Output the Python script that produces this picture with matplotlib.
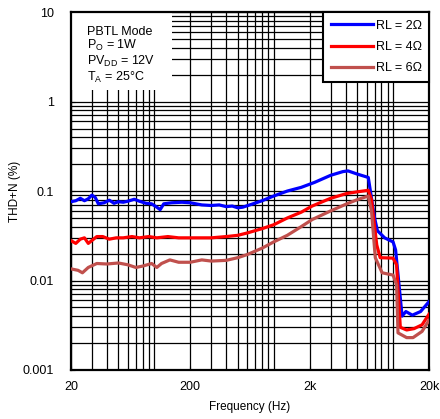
import numpy as np
import matplotlib.pyplot as plt
from matplotlib.patches import Rectangle
from matplotlib.ticker import LogLocator, FixedLocator, NullFormatter

plt.rcParams['font.family'] = ['Liberation Sans', 'DejaVu Sans']
plt.rcParams['mathtext.fontset'] = 'custom'
plt.rcParams['mathtext.rm'] = 'Liberation Sans'

# THD+N vs frequency
f_2 = [20, 22, 24, 26, 28, 30, 32, 34, 38, 42, 46, 50, 55, 60, 68, 75, 85, 95, 105, 112, 120,
       140, 170, 200, 250, 300, 350, 400, 450, 500, 550, 650, 800, 1000, 1300, 1700, 2200,
       3000, 3800, 4200, 5000, 6200, 7000, 7400, 8500, 10000, 10500, 11900, 12800, 14500,
       17000, 20000]
thd_2 = [0.076, 0.078, 0.083, 0.078, 0.082, 0.090, 0.085, 0.072, 0.074, 0.079, 0.073, 0.076,
         0.075, 0.077, 0.081, 0.077, 0.073, 0.072, 0.066, 0.062, 0.072, 0.074, 0.075, 0.074,
         0.070, 0.069, 0.070, 0.067, 0.068, 0.065, 0.066, 0.071, 0.078, 0.088, 0.100, 0.110,
         0.125, 0.150, 0.165, 0.168, 0.155, 0.142, 0.050, 0.036, 0.030, 0.027, 0.022, 0.0040,
         0.0045, 0.0041, 0.0045, 0.0058]

f_4 = [20, 22, 24, 26, 28, 30, 33, 37, 42, 48, 55, 65, 75, 90, 105, 130, 160, 200, 300, 400,
       500, 600, 800, 1000, 1300, 1700, 2100, 3000, 4100, 5000, 6200, 6600, 7300, 7800, 10000,
       10700, 11500, 13000, 15000, 17500, 20000]
thd_4 = [0.028, 0.026, 0.029, 0.030, 0.026, 0.028, 0.031, 0.031, 0.029, 0.030, 0.030, 0.031,
         0.030, 0.031, 0.030, 0.031, 0.030, 0.030, 0.030, 0.031, 0.032, 0.034, 0.038, 0.042,
         0.050, 0.058, 0.068, 0.083, 0.094, 0.098, 0.102, 0.080, 0.025, 0.018, 0.0178, 0.0150,
         0.0030, 0.0028, 0.0029, 0.0032, 0.0042]

f_6 = [20, 23, 25, 28, 33, 40, 50, 60, 70, 80, 95, 105, 115, 135, 160, 200, 250, 300, 400,
       500, 600, 800, 1000, 1300, 1700, 2100, 3000, 4100, 5000, 6200, 6600, 7100, 8100, 10000,
       10700, 11000, 13000, 14700, 17500, 20000]
thd_6 = [0.0135, 0.013, 0.0122, 0.014, 0.0155, 0.0153, 0.0157, 0.015, 0.014, 0.0145, 0.0155,
         0.014, 0.0155, 0.017, 0.016, 0.016, 0.017, 0.0165, 0.0168, 0.018, 0.0195, 0.023, 0.027,
         0.032, 0.040, 0.048, 0.060, 0.072, 0.080, 0.088, 0.060, 0.018, 0.0122, 0.0115, 0.009,
         0.0026, 0.0023, 0.0023, 0.0027, 0.0036]

fig = plt.figure(figsize=(4.4, 4.19), dpi=100)
ax = fig.add_axes([0.161, 0.117, 0.814, 0.854])

ax.plot(f_2, thd_2, color='#0000ff', lw=2.3, label='RL = 2Ω', zorder=3)
ax.plot(f_4, thd_4, color='#ff0000', lw=2.3, label='RL = 4Ω', zorder=3)
ax.plot(f_6, thd_6, color='#c0504d', lw=2.3, label='RL = 6Ω', zorder=3)

ax.set_xscale('log')
ax.set_yscale('log')
ax.set_xlim(20, 20000)
ax.set_ylim(0.001, 10)

ax.xaxis.set_major_locator(FixedLocator([20, 200, 2000, 20000]))
ax.set_xticklabels(['20', '200', '2k', '20k'])
ax.xaxis.set_minor_locator(LogLocator(base=10, subs=np.arange(1, 10)))
ax.xaxis.set_minor_formatter(NullFormatter())
ax.yaxis.set_major_locator(FixedLocator([0.001, 0.01, 0.1, 1, 10]))
ax.set_yticklabels(['0.001', '0.01', '0.1', '1', '10'])
ax.yaxis.set_minor_locator(LogLocator(base=10, subs=np.arange(2, 10)))
ax.yaxis.set_minor_formatter(NullFormatter())

ax.grid(True, which='both', color='black', lw=0.9)
ax.tick_params(which='both', direction='in', length=3, labelsize=9)
ax.tick_params(axis='x', pad=8)
ax.tick_params(axis='y', pad=12)
for s in ax.spines.values():
    s.set_linewidth(1.6)

ax.set_xlabel('Frequency (Hz)', fontsize=8.5, labelpad=6)
ax.set_ylabel('THD+N (%)', fontsize=8.5, labelpad=1)

# white box behind the conditions text
ax.add_patch(Rectangle((0, 0.782), 0.282, 0.218, transform=ax.transAxes,
                       facecolor='white', edgecolor='none', zorder=2.5))
ax.text(0.045, 0.962,
        'PBTL Mode\n'
        'P$_\\mathregular{O}$ = 1W\n'
        'PV$_\\mathregular{DD}$ = 12V\n'
        'T$_\\mathregular{A}$ = 25°C',
        transform=ax.transAxes, va='top', ha='left', fontsize=9, linespacing=1.05,
        zorder=4)

leg = ax.legend(loc='upper right', fontsize=9, framealpha=1, fancybox=False,
                edgecolor='black', borderaxespad=0, handlelength=3.4, handletextpad=0.2,
                labelspacing=0.75, borderpad=0.6)
leg.get_frame().set_linewidth(1.5)

fig.savefig('out.png', dpi=100)
